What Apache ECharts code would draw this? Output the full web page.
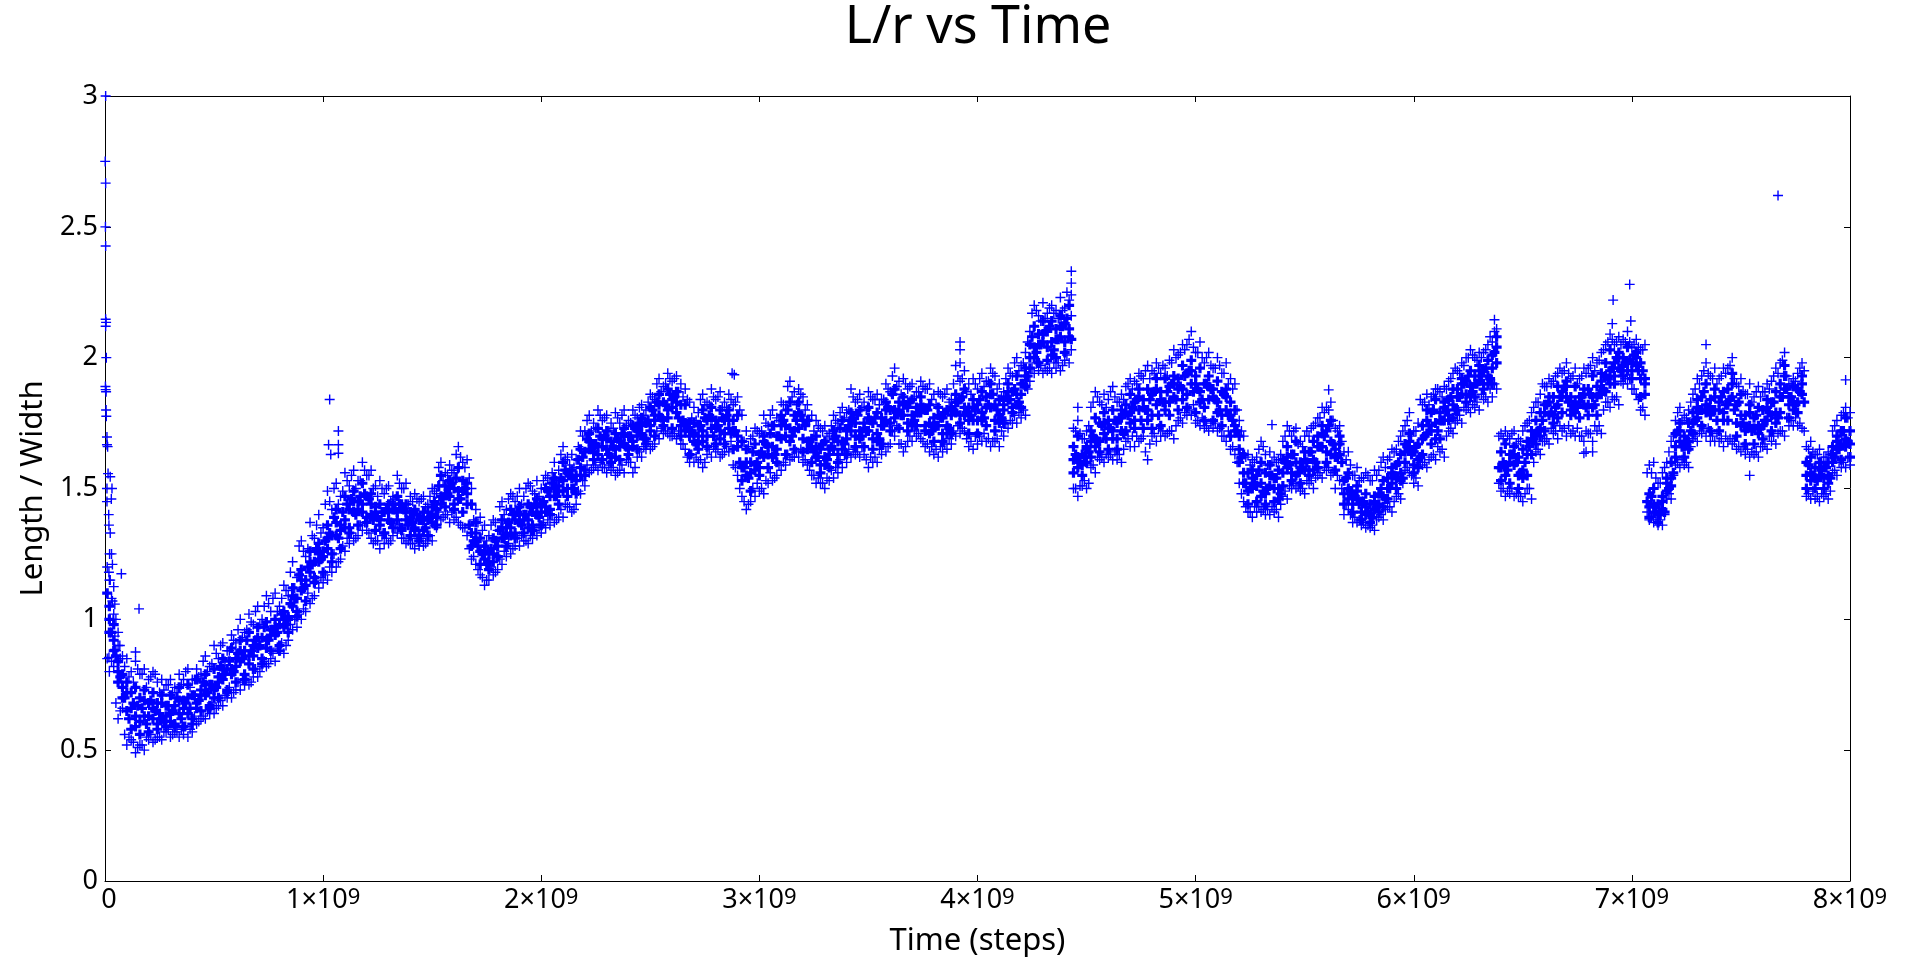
<!DOCTYPE html>
<html><head><meta charset="utf-8">
<style>html,body{margin:0;padding:0;background:#fff}#c{width:1920px;height:962px}</style>
<script src="https://cdn.jsdelivr.net/npm/echarts@6/dist/echarts.min.js"></script>
</head><body><div id="c"></div>
<script>
const chartTitle='L/r vs Time', xName='Time (steps)', yName='Length / Width';
const xTickLabels=['{z|0}','1×10{s|9}','2×10{s|9}','3×10{s|9}','4×10{s|9}','5×10{s|9}','6×10{s|9}','7×10{s|9}','8×10{s|9}'];
const yTickLabels=['0','0.5','1','1.5','2','2.5','3'];
// sample times, in units of 1e9 steps
const timesA=[
0.02,0.06,0.10,0.14,0.18,0.22,0.26,0.30,0.34,0.38,0.42,0.46,0.50,0.54,0.58,0.62,0.66,0.70,0.74,0.78,0.82,0.86,0.90,0.94,0.98,
1.02,1.06,1.10,1.14,1.18,1.22,1.26,1.30,1.34,1.38,1.42,1.46,1.50,1.54,1.58,1.62,1.66,1.70,1.74,1.78,1.82,1.86,1.90,1.94,1.98,
2.02,2.06,2.10,2.14,2.18,2.22,2.26,2.30,2.34,2.38,2.42,2.46,2.50,2.54,2.58,2.62,2.66,2.70,2.74,2.78,2.82,2.86,2.90,2.94,2.98,
3.02,3.06,3.10,3.14,3.18,3.22,3.26,3.30,3.34,3.38,3.42,3.46,3.50,3.54,3.58,3.62,3.66,3.70,3.74,3.78,3.82,3.86,3.90,3.94,3.98,
4.02,4.06,4.10,4.14,4.18,4.22,4.26,4.30,4.34,4.38,4.42,4.46,4.50,4.54,4.58,4.62,4.66,4.70,4.74,4.78,4.82,4.86,4.90,4.94,4.98,
5.02,5.06,5.10,5.14,5.18,5.22,5.26,5.30,5.34,5.38,5.42,5.46,5.50,5.54,5.58,5.62,5.66,5.70,5.74,5.78,5.82,5.86,5.90,5.94,5.98,
6.02,6.06,6.10,6.14,6.18,6.22,6.26,6.30,6.34,6.38,6.42,6.46,6.50,6.54,6.58,6.62,6.66,6.70,6.74,6.78,6.82,6.86,6.90,6.94,6.98,
7.02,7.06,7.10,7.14,7.18,7.22,7.26,7.30,7.34,7.38,7.42,7.46,7.50,7.54,7.58,7.62,7.66,7.70,7.74,7.78,7.82,7.86,7.90,7.94,7.98];
const timesB=[
0.04,0.08,0.12,0.16,0.20,0.24,0.28,0.32,0.36,0.40,0.44,0.48,0.52,0.56,0.60,0.64,0.68,0.72,0.76,0.80,0.84,0.88,0.92,0.96,1.00,
1.04,1.08,1.12,1.16,1.20,1.24,1.28,1.32,1.36,1.40,1.44,1.48,1.52,1.56,1.60,1.64,1.68,1.72,1.76,1.80,1.84,1.88,1.92,1.96,2.00,
2.04,2.08,2.12,2.16,2.20,2.24,2.28,2.32,2.36,2.40,2.44,2.48,2.52,2.56,2.60,2.64,2.68,2.72,2.76,2.80,2.84,2.88,2.92,2.96,3.00,
3.04,3.08,3.12,3.16,3.20,3.24,3.28,3.32,3.36,3.40,3.44,3.48,3.52,3.56,3.60,3.64,3.68,3.72,3.76,3.80,3.84,3.88,3.92,3.96,4.00,
4.04,4.08,4.12,4.16,4.20,4.24,4.28,4.32,4.36,4.40,4.44,4.48,4.52,4.56,4.60,4.64,4.68,4.72,4.76,4.80,4.84,4.88,4.92,4.96,5.00,
5.04,5.08,5.12,5.16,5.20,5.24,5.28,5.32,5.36,5.40,5.44,5.48,5.52,5.56,5.60,5.64,5.68,5.72,5.76,5.80,5.84,5.88,5.92,5.96,6.00,
6.04,6.08,6.12,6.16,6.20,6.24,6.28,6.32,6.36,6.40,6.44,6.48,6.52,6.56,6.60,6.64,6.68,6.72,6.76,6.80,6.84,6.88,6.92,6.96,7.00,
7.04,7.08,7.12,7.16,7.20,7.24,7.28,7.32,7.36,7.40,7.44,7.48,7.52,7.56,7.60,7.64,7.68,7.72,7.76,7.80,7.84,7.88,7.92,7.96,8.00];
const timesC=[
0.01,0.05,0.09,0.13,0.17,0.21,0.25,0.29,0.33,0.37,0.41,0.45,0.49,0.53,0.57,0.61,0.65,0.69,0.73,0.77,0.81,0.85,0.89,0.93,0.97,
1.01,1.05,1.09,1.13,1.17,1.21,1.25,1.29,1.33,1.37,1.41,1.45,1.49,1.53,1.57,1.61,1.65,1.69,1.73,1.77,1.81,1.85,1.89,1.93,1.97,
2.01,2.05,2.09,2.13,2.17,2.21,2.25,2.29,2.33,2.37,2.41,2.45,2.49,2.53,2.57,2.61,2.65,2.69,2.73,2.77,2.81,2.85,2.89,2.93,2.97,
3.01,3.05,3.09,3.13,3.17,3.21,3.25,3.29,3.33,3.37,3.41,3.45,3.49,3.53,3.57,3.61,3.65,3.69,3.73,3.77,3.81,3.85,3.89,3.93,3.97,
4.01,4.05,4.09,4.13,4.17,4.21,4.25,4.29,4.33,4.37,4.41,4.45,4.49,4.53,4.57,4.61,4.65,4.69,4.73,4.77,4.81,4.85,4.89,4.93,4.97,
5.01,5.05,5.09,5.13,5.17,5.21,5.25,5.29,5.33,5.37,5.41,5.45,5.49,5.53,5.57,5.61,5.65,5.69,5.73,5.77,5.81,5.85,5.89,5.93,5.97,
6.01,6.05,6.09,6.13,6.17,6.21,6.25,6.29,6.33,6.37,6.41,6.45,6.49,6.53,6.57,6.61,6.65,6.69,6.73,6.77,6.81,6.85,6.89,6.93,6.97,
7.01,7.05,7.09,7.13,7.17,7.21,7.25,7.29,7.33,7.37,7.41,7.45,7.49,7.53,7.57,7.61,7.65,7.69,7.73,7.77,7.81,7.85,7.89,7.93,7.97];
const timesD=[
0.03,0.07,0.11,0.15,0.19,0.23,0.27,0.31,0.35,0.39,0.43,0.47,0.51,0.55,0.59,0.63,0.67,0.71,0.75,0.79,0.83,0.87,0.91,0.95,0.99,
1.03,1.07,1.11,1.15,1.19,1.23,1.27,1.31,1.35,1.39,1.43,1.47,1.51,1.55,1.59,1.63,1.67,1.71,1.75,1.79,1.83,1.87,1.91,1.95,1.99,
2.03,2.07,2.11,2.15,2.19,2.23,2.27,2.31,2.35,2.39,2.43,2.47,2.51,2.55,2.59,2.63,2.67,2.71,2.75,2.79,2.83,2.87,2.91,2.95,2.99,
3.03,3.07,3.11,3.15,3.19,3.23,3.27,3.31,3.35,3.39,3.43,3.47,3.51,3.55,3.59,3.63,3.67,3.71,3.75,3.79,3.83,3.87,3.91,3.95,3.99,
4.03,4.07,4.11,4.15,4.19,4.23,4.27,4.31,4.35,4.39,4.43,4.47,4.51,4.55,4.59,4.63,4.67,4.71,4.75,4.79,4.83,4.87,4.91,4.95,4.99,
5.03,5.07,5.11,5.15,5.19,5.23,5.27,5.31,5.35,5.39,5.43,5.47,5.51,5.55,5.59,5.63,5.67,5.71,5.75,5.79,5.83,5.87,5.91,5.95,5.99,
6.03,6.07,6.11,6.15,6.19,6.23,6.27,6.31,6.35,6.39,6.43,6.47,6.51,6.55,6.59,6.63,6.67,6.71,6.75,6.79,6.83,6.87,6.91,6.95,6.99,
7.03,7.07,7.11,7.15,7.19,7.23,7.27,7.31,7.35,7.39,7.43,7.47,7.51,7.55,7.59,7.63,7.67,7.71,7.75,7.79,7.83,7.87,7.91,7.95,7.99];
// values: loose points along the top of the band
const hiA=[
1.15,.90,.85,.84,.81,.80,.77,.77,.79,.81,.81,.86,.90,.91,.94,1.0,1.02,1.05,1.09,1.10,1.13,1.22,1.30,1.37,1.40,
1.49,1.52,1.56,1.57,1.60,1.57,1.53,1.51,1.55,1.52,1.48,1.47,1.50,1.60,1.59,1.66,1.61,1.42,1.36,1.38,1.45,1.48,1.50,1.52,1.53,
1.55,1.60,1.66,1.63,1.72,1.78,1.80,1.78,1.79,1.80,1.80,1.82,1.86,1.92,1.94,1.93,1.88,1.81,1.86,1.88,1.87,1.86,1.85,1.72,1.73,
1.78,1.80,1.83,1.91,1.88,1.82,1.76,1.74,1.78,1.81,1.88,1.86,1.87,1.86,1.90,1.96,1.92,1.90,1.91,1.90,1.87,1.88,1.97,1.95,1.92,
1.94,1.96,1.90,1.96,2.00,2.02,2.20,2.21,2.20,2.23,2.22,1.76,1.72,1.87,1.86,1.89,1.86,1.92,1.94,1.97,1.98,1.96,2.03,2.05,2.10,
2.06,2.02,2.00,1.98,1.90,1.70,1.61,1.68,1.64,1.61,1.74,1.73,1.70,1.74,1.81,1.83,1.74,1.64,1.58,1.56,1.57,1.62,1.65,1.70,1.79,
1.75,1.86,1.88,1.89,1.94,1.98,2.03,2.02,2.05,2.11,1.72,1.72,1.72,1.79,1.86,1.92,1.94,1.98,1.96,1.96,2.00,2.02,2.09,2.08,2.10,
2.07,2.05,1.60,1.56,1.68,1.81,1.80,1.92,1.98,1.96,1.96,2.00,1.92,1.90,1.89,1.90,1.96,2.02,1.92,1.98,1.68,1.65,1.64,1.76,1.81];
const hiB=[
1.02,.86,.80,.79,.77,.76,.75,.74,.77,.77,.79,.82,.85,.88,.91,.95,.98,1.0,1.03,1.05,1.09,1.16,1.24,1.31,1.35,
1.42,1.47,1.51,1.53,1.55,1.51,1.48,1.47,1.50,1.47,1.45,1.44,1.48,1.56,1.56,1.60,1.50,1.39,1.32,1.34,1.42,1.45,1.47,1.49,1.50,
1.52,1.57,1.62,1.61,1.72,1.75,1.76,1.75,1.75,1.76,1.77,1.80,1.84,1.89,1.91,1.90,1.83,1.79,1.83,1.84,1.83,1.82,1.78,1.69,1.71,
1.74,1.77,1.80,1.87,1.85,1.78,1.73,1.71,1.75,1.79,1.83,1.83,1.84,1.84,1.87,1.91,1.88,1.87,1.88,1.86,1.85,1.84,1.91,1.90,1.88,
1.91,1.93,1.87,1.93,1.97,2.10,2.16,2.17,2.18,2.19,1.73,1.69,1.81,1.83,1.84,1.83,1.89,1.91,1.92,1.95,1.94,1.99,2.01,2.05,2.02,
1.98,1.96,1.94,1.92,1.76,1.63,1.62,1.63,1.62,1.68,1.70,1.68,1.70,1.77,1.81,1.73,1.64,1.55,1.54,1.53,1.57,1.61,1.65,1.74,1.72,
1.82,1.85,1.87,1.91,1.95,2.00,2.00,2.02,2.06,1.71,1.69,1.69,1.75,1.83,1.89,1.91,1.94,1.92,1.92,1.96,1.98,2.05,2.05,2.07,2.04,
2.03,1.59,1.52,1.60,1.76,1.78,1.86,1.93,1.93,1.92,1.96,1.90,1.86,1.85,1.87,1.91,1.98,1.90,1.94,1.66,1.63,1.62,1.72,1.78,1.79];
const upC=[
1.20,.88,.82,.76,.79,.78,.72,.75,.72,.80,.77,.84,.83,.90,.88,.96,.96,1.03,1.05,1.08,1.08,1.18,1.28,1.27,1.36,
1.44,1.50,1.49,1.55,1.53,1.55,1.47,1.50,1.46,1.50,1.45,1.46,1.47,1.58,1.55,1.63,1.58,1.38,1.34,1.36,1.43,1.46,1.47,1.50,1.48,
1.53,1.56,1.63,1.59,1.66,1.76,1.73,1.77,1.73,1.78,1.75,1.81,1.83,1.90,1.90,1.92,1.85,1.77,1.84,1.82,1.85,1.81,1.83,1.68,1.70,
1.72,1.78,1.76,1.89,1.82,1.80,1.72,1.72,1.74,1.79,1.80,1.84,1.80,1.84,1.84,1.93,1.86,1.89,1.87,1.88,1.82,1.86,1.90,1.92,1.86,
1.92,1.91,1.88,1.92,1.98,1.98,2.17,2.14,2.19,2.15,2.25,1.72,1.69,1.83,1.82,1.87,1.83,1.90,1.90,1.95,1.94,1.97,1.98,2.02,2.07,
2.02,2.0,1.96,1.94,1.88,1.72,1.59,1.65,1.59,1.60,1.70,1.72,1.66,1.73,1.77,1.80,1.72,1.61,1.55,1.54,1.53,1.60,1.62,1.68,1.76,
1.72,1.83,1.86,1.85,1.92,1.94,2.0,1.99,2.03,2.10,1.69,1.71,1.68,1.76,1.83,1.89,1.93,1.95,1.93,1.93,1.97,1.99,2.06,2.06,2.06,
2.05,2.03,1.56,1.52,1.64,1.79,1.77,1.88,1.95,1.92,1.93,1.97,1.89,1.86,1.87,1.87,1.93,1.99,1.90,1.96,1.65,1.63,1.62,1.74,1.79];
const upD=[
1.08,.85,.78,.81,.74,.79,.73,.72,.75,.74,.78,.80,.87,.84,.92,.93,.99,.98,1.06,1.03,1.11,1.12,1.26,1.32,1.33,
1.45,1.44,1.53,1.50,1.57,1.50,1.50,1.45,1.52,1.44,1.46,1.43,1.49,1.53,1.57,1.62,1.54,1.37,1.30,1.37,1.40,1.47,1.44,1.51,1.47,
1.54,1.53,1.61,1.58,1.70,1.72,1.78,1.72,1.77,1.74,1.78,1.78,1.85,1.87,1.92,1.87,1.84,1.76,1.82,1.85,1.81,1.84,1.80,1.66,1.72,
1.75,1.74,1.82,1.85,1.86,1.76,1.74,1.70,1.76,1.77,1.85,1.81,1.85,1.82,1.88,1.89,1.90,1.85,1.89,1.84,1.86,1.83,1.93,1.87,1.90,
1.89,1.94,1.85,1.94,1.95,2.06,2.18,2.15,2.17,2.18,2.16,1.71,1.74,1.85,1.81,1.85,1.84,1.88,1.93,1.92,1.96,1.93,2.0,2.03,2.04,
2.0,1.97,1.97,1.90,1.80,1.62,1.60,1.66,1.60,1.63,1.72,1.67,1.72,1.75,1.79,1.76,1.68,1.59,1.53,1.55,1.55,1.58,1.64,1.72,1.70,
1.84,1.82,1.88,1.88,1.96,1.97,2.01,2.0,2.08,1.70,1.70,1.67,1.74,1.81,1.90,1.90,1.96,1.94,1.90,1.94,1.95,2.03,2.07,2.05,2.06,
2.04,1.56,1.54,1.58,1.70,1.76,1.83,1.90,1.94,1.90,1.94,1.92,1.87,1.83,1.85,1.88,1.94,1.93,1.91,1.95,1.64,1.60,1.63,1.70,1.77];
// the solid core of the band
const coreA1=[
1.05,.84,.76,.74,.73,.72,.71,.71,.74,.75,.77,.79,.81,.85,.89,.92,.95,.97,.99,1.0,1.03,1.12,1.19,1.26,1.29,
1.36,1.42,1.47,1.49,1.52,1.48,1.44,1.44,1.47,1.44,1.42,1.41,1.43,1.55,1.53,1.58,1.52,1.37,1.28,1.31,1.38,1.42,1.43,1.44,1.46,
1.50,1.54,1.60,1.57,1.65,1.71,1.73,1.72,1.71,1.73,1.74,1.77,1.81,1.86,1.88,1.87,1.82,1.75,1.80,1.81,1.80,1.80,1.78,1.65,1.67,
1.70,1.74,1.78,1.83,1.83,1.76,1.70,1.68,1.72,1.76,1.79,1.80,1.81,1.79,1.83,1.88,1.85,1.84,1.85,1.82,1.81,1.80,1.86,1.88,1.84,
1.87,1.90,1.84,1.90,1.93,1.96,2.12,2.14,2.14,2.16,2.20,1.70,1.66,1.77,1.79,1.80,1.80,1.86,1.88,1.88,1.92,1.92,1.93,1.97,1.99,
1.96,1.93,1.91,1.88,1.80,1.63,1.57,1.60,1.59,1.57,1.66,1.68,1.64,1.68,1.74,1.76,1.70,1.56,1.51,1.48,1.47,1.53,1.58,1.63,1.71,
1.67,1.80,1.84,1.83,1.88,1.92,1.95,1.97,1.99,2.08,1.67,1.66,1.65,1.72,1.79,1.85,1.89,1.91,1.89,1.88,1.93,1.94,2.03,2.02,2.04,
2.02,1.92,1.50,1.47,1.60,1.75,1.75,1.84,1.90,1.88,1.87,1.94,1.86,1.82,1.81,1.84,1.87,1.97,1.89,1.93,1.62,1.60,1.60,1.70,1.77];
const coreB1=[
.98,.79,.72,.70,.68,.68,.67,.67,.69,.71,.73,.75,.78,.81,.85,.88,.90,.93,.96,.98,1.01,1.08,1.15,1.22,1.26,
1.32,1.36,1.42,1.45,1.47,1.43,1.41,1.42,1.44,1.41,1.38,1.38,1.42,1.51,1.50,1.53,1.44,1.31,1.25,1.28,1.35,1.38,1.40,1.41,1.44,
1.47,1.51,1.56,1.55,1.64,1.67,1.69,1.68,1.68,1.70,1.72,1.75,1.78,1.83,1.84,1.82,1.75,1.74,1.76,1.76,1.76,1.76,1.68,1.60,1.63,
1.66,1.70,1.74,1.78,1.76,1.69,1.65,1.65,1.68,1.72,1.75,1.75,1.75,1.77,1.80,1.83,1.81,1.81,1.80,1.77,1.77,1.81,1.84,1.81,1.82,
1.85,1.82,1.82,1.87,1.90,2.05,2.09,2.10,2.11,2.13,1.66,1.63,1.72,1.75,1.76,1.75,1.82,1.83,1.84,1.86,1.87,1.89,1.92,1.94,1.93,
1.90,1.88,1.87,1.83,1.70,1.56,1.55,1.56,1.54,1.61,1.63,1.60,1.64,1.70,1.72,1.65,1.53,1.47,1.45,1.44,1.48,1.54,1.59,1.67,1.64,
1.74,1.79,1.79,1.84,1.88,1.91,1.93,1.95,2.01,1.64,1.63,1.62,1.68,1.76,1.82,1.85,1.87,1.85,1.85,1.88,1.89,1.98,1.98,2.0,1.98,
1.98,1.48,1.44,1.54,1.71,1.70,1.79,1.85,1.84,1.83,1.88,1.82,1.78,1.77,1.80,1.83,1.90,1.85,1.88,1.60,1.58,1.58,1.66,1.72,1.72];
const midC=[
1.10,.86,.70,.68,.66,.69,.64,.67,.70,.68,.71,.76,.75,.82,.84,.87,.92,.92,.97,.96,1.02,1.06,1.17,1.20,1.27,
1.30,1.39,1.41,1.46,1.47,1.46,1.39,1.42,1.42,1.42,1.37,1.38,1.39,1.51,1.48,1.54,1.50,1.30,1.25,1.27,1.34,1.37,1.41,1.40,1.44,
1.45,1.52,1.54,1.55,1.61,1.69,1.67,1.70,1.66,1.71,1.70,1.75,1.76,1.83,1.82,1.85,1.76,1.72,1.74,1.78,1.74,1.78,1.72,1.58,1.64,
1.64,1.71,1.70,1.80,1.76,1.74,1.64,1.67,1.66,1.73,1.74,1.78,1.72,1.77,1.74,1.86,1.78,1.83,1.79,1.80,1.74,1.79,1.80,1.85,1.78,
1.84,1.82,1.80,1.85,1.88,1.90,2.08,2.05,2.12,2.07,2.15,1.63,1.62,1.70,1.74,1.73,1.77,1.78,1.84,1.80,1.87,1.83,1.90,1.89,1.95,
1.88,1.90,1.84,1.86,1.76,1.62,1.50,1.57,1.50,1.54,1.60,1.63,1.58,1.64,1.66,1.74,1.62,1.54,1.47,1.45,1.39,1.50,1.50,1.60,1.66,
1.66,1.70,1.80,1.76,1.85,1.85,1.93,1.90,1.96,2.02,1.60,1.63,1.56,1.66,1.72,1.82,1.81,1.89,1.82,1.85,1.86,1.86,1.92,2.0,1.98,
2.01,1.95,1.47,1.40,1.50,1.72,1.68,1.76,1.87,1.80,1.85,1.84,1.83,1.73,1.78,1.76,1.83,1.85,1.85,1.87,1.59,1.53,1.58,1.62,1.72];
const midD=[
.95,.78,.62,.67,.60,.65,.61,.65,.62,.66,.69,.72,.74,.79,.80,.85,.88,.90,.92,.95,.98,1.08,1.12,1.21,1.23,
1.33,1.31,1.44,1.40,1.48,1.38,1.41,1.37,1.44,1.36,1.40,1.35,1.45,1.46,1.52,1.46,1.36,1.28,1.21,1.30,1.31,1.40,1.36,1.43,1.39,
1.49,1.47,1.57,1.50,1.62,1.65,1.70,1.63,1.69,1.66,1.73,1.69,1.80,1.77,1.86,1.77,1.73,1.67,1.77,1.70,1.77,1.71,1.60,1.54,1.60,
1.67,1.63,1.76,1.70,1.78,1.68,1.62,1.61,1.70,1.67,1.77,1.70,1.76,1.69,1.81,1.79,1.82,1.76,1.81,1.72,1.77,1.73,1.83,1.79,1.80,
1.77,1.86,1.77,1.84,1.83,1.93,2.02,2.10,2.03,2.12,2.07,1.60,1.64,1.68,1.69,1.76,1.71,1.81,1.76,1.84,1.78,1.87,1.84,1.93,1.87,
1.84,1.88,1.80,1.78,1.72,1.52,1.52,1.49,1.55,1.48,1.59,1.56,1.60,1.60,1.70,1.67,1.60,1.49,1.44,1.41,1.43,1.46,1.55,1.54,1.63,
1.62,1.74,1.72,1.80,1.80,1.90,1.87,1.93,1.92,1.58,1.57,1.60,1.60,1.69,1.76,1.79,1.85,1.83,1.81,1.81,1.82,1.88,1.96,1.95,1.99,
1.95,1.45,1.43,1.41,1.56,1.66,1.72,1.80,1.81,1.76,1.82,1.80,1.75,1.72,1.73,1.79,1.77,1.88,1.82,1.83,1.55,1.57,1.54,1.65,1.68];
const midE=[
1.00,.80,.72,.59,.69,.66,.68,.61,.69,.70,.66,.75,.70,.81,.79,.88,.83,.93,.89,.97,1.0,1.09,1.15,1.22,1.25,
1.31,1.37,1.35,1.45,1.41,1.44,1.36,1.41,1.38,1.41,1.34,1.38,1.40,1.44,1.50,1.46,1.48,1.33,1.26,1.22,1.35,1.32,1.40,1.35,1.43,
1.41,1.50,1.49,1.54,1.55,1.68,1.63,1.69,1.62,1.70,1.66,1.74,1.72,1.82,1.77,1.83,1.72,1.71,1.68,1.77,1.69,1.76,1.66,1.60,1.57,
1.68,1.62,1.74,1.68,1.79,1.65,1.66,1.59,1.69,1.65,1.76,1.69,1.77,1.68,1.80,1.77,1.82,1.74,1.82,1.71,1.78,1.71,1.83,1.78,1.81,
1.76,1.86,1.75,1.87,1.82,1.93,2.00,2.09,2.01,2.12,2.08,1.58,1.65,1.66,1.75,1.69,1.77,1.75,1.85,1.76,1.88,1.80,1.90,1.84,1.95,
1.83,1.89,1.79,1.85,1.72,1.52,1.54,1.47,1.55,1.46,1.62,1.55,1.61,1.57,1.71,1.63,1.67,1.46,1.49,1.40,1.45,1.43,1.56,1.53,1.68,
1.58,1.76,1.69,1.81,1.77,1.90,1.85,1.95,1.90,2.04,1.55,1.63,1.54,1.69,1.70,1.83,1.77,1.89,1.79,1.86,1.81,1.91,1.90,2.0,1.95,
2.0,1.90,1.41,1.45,1.51,1.72,1.65,1.81,1.79,1.85,1.76,1.90,1.74,1.79,1.71,1.81,1.75,1.93,1.80,1.90,1.53,1.58,1.52,1.68,1.66];
const midF=[
.92,.74,.66,.61,.63,.60,.63,.59,.66,.62,.71,.66,.76,.72,.82,.77,.86,.83,.94,.88,1.0,1.03,1.13,1.16,1.24,
1.25,1.34,1.35,1.42,1.39,1.41,1.33,1.44,1.34,1.39,1.32,1.41,1.36,1.48,1.44,1.49,1.33,1.26,1.22,1.24,1.33,1.33,1.38,1.36,1.41,
1.42,1.49,1.50,1.53,1.57,1.64,1.66,1.62,1.66,1.65,1.70,1.69,1.76,1.76,1.81,1.74,1.70,1.70,1.70,1.73,1.71,1.72,1.58,1.56,1.58,
1.63,1.65,1.70,1.72,1.69,1.66,1.59,1.63,1.63,1.69,1.70,1.73,1.69,1.74,1.75,1.80,1.75,1.79,1.74,1.74,1.71,1.78,1.78,1.76,1.76,
1.81,1.76,1.80,1.81,1.86,2.0,2.05,2.04,2.07,2.06,1.61,1.59,1.68,1.68,1.73,1.69,1.79,1.76,1.81,1.78,1.84,1.83,1.88,1.86,1.90,
1.81,1.85,1.78,1.78,1.65,1.49,1.51,1.48,1.50,1.56,1.56,1.58,1.57,1.66,1.64,1.62,1.48,1.44,1.41,1.40,1.44,1.50,1.54,1.64,1.59,
1.69,1.72,1.76,1.78,1.85,1.86,1.90,1.90,1.96,1.58,1.60,1.55,1.63,1.71,1.79,1.78,1.85,1.80,1.83,1.82,1.85,1.93,1.93,1.97,1.95,
1.92,1.43,1.40,1.52,1.66,1.66,1.75,1.80,1.78,1.80,1.82,1.75,1.72,1.73,1.74,1.78,1.85,1.82,1.83,1.55,1.54,1.54,1.63,1.67,1.67];
const coreA2=[
.95,.76,.65,.63,.63,.62,.62,.64,.64,.64,.68,.71,.73,.77,.81,.84,.86,.89,.92,.94,.97,1.05,1.11,1.18,1.22,
1.27,1.32,1.38,1.41,1.44,1.40,1.38,1.38,1.41,1.38,1.35,1.34,1.37,1.47,1.47,1.49,1.44,1.30,1.23,1.25,1.31,1.35,1.37,1.38,1.40,
1.43,1.47,1.53,1.50,1.58,1.65,1.66,1.65,1.65,1.67,1.68,1.71,1.74,1.78,1.80,1.79,1.75,1.68,1.72,1.73,1.72,1.73,1.70,1.55,1.59,
1.62,1.66,1.69,1.73,1.73,1.68,1.62,1.62,1.65,1.68,1.72,1.72,1.72,1.71,1.76,1.80,1.78,1.78,1.79,1.75,1.74,1.74,1.79,1.81,1.76,
1.79,1.81,1.78,1.84,1.86,1.89,2.04,2.06,2.06,2.08,2.11,1.62,1.60,1.69,1.71,1.72,1.72,1.79,1.80,1.80,1.82,1.83,1.85,1.88,1.90,
1.87,1.84,1.83,1.80,1.74,1.56,1.50,1.52,1.51,1.50,1.58,1.60,1.57,1.61,1.66,1.68,1.63,1.50,1.46,1.43,1.42,1.47,1.52,1.56,1.65,
1.61,1.71,1.75,1.76,1.82,1.86,1.89,1.91,1.93,1.98,1.59,1.59,1.57,1.63,1.73,1.78,1.82,1.85,1.83,1.82,1.85,1.86,1.95,1.96,1.98,
1.97,1.86,1.44,1.42,1.54,1.68,1.68,1.77,1.82,1.80,1.79,1.85,1.78,1.74,1.74,1.76,1.79,1.88,1.83,1.86,1.56,1.55,1.55,1.65,1.69];
const coreB2=[
.88,.70,.58,.56,.57,.58,.59,.60,.59,.60,.65,.67,.70,.73,.76,.79,.81,.85,.88,.90,.95,1.01,1.07,1.14,1.18,
1.22,1.27,1.33,1.36,1.37,1.34,1.33,1.35,1.35,1.32,1.30,1.32,1.39,1.43,1.42,1.41,1.28,1.21,1.19,1.24,1.28,1.31,1.33,1.34,1.36,
1.40,1.44,1.47,1.48,1.55,1.61,1.61,1.60,1.61,1.63,1.65,1.67,1.70,1.74,1.73,1.70,1.63,1.65,1.66,1.67,1.67,1.65,1.53,1.49,1.55,
1.58,1.60,1.63,1.65,1.64,1.60,1.56,1.58,1.60,1.63,1.66,1.66,1.65,1.67,1.72,1.73,1.72,1.74,1.72,1.68,1.68,1.71,1.75,1.71,1.71,
1.74,1.72,1.75,1.79,1.81,1.96,1.98,1.99,2.00,2.02,1.56,1.55,1.62,1.64,1.65,1.65,1.72,1.73,1.73,1.73,1.74,1.78,1.80,1.81,1.79,
1.76,1.76,1.74,1.70,1.60,1.44,1.45,1.44,1.45,1.51,1.53,1.52,1.55,1.58,1.60,1.57,1.44,1.41,1.38,1.37,1.41,1.46,1.50,1.60,1.56,
1.63,1.67,1.69,1.76,1.80,1.83,1.85,1.88,1.90,1.53,1.52,1.50,1.55,1.67,1.72,1.75,1.79,1.78,1.77,1.78,1.78,1.87,1.90,1.93,1.92,
1.85,1.39,1.37,1.49,1.62,1.62,1.71,1.74,1.72,1.72,1.76,1.70,1.67,1.67,1.69,1.72,1.79,1.77,1.79,1.50,1.50,1.50,1.60,1.61,1.62];
// loose points along the bottom of the band
const loB=[
.82,.66,.54,.52,.54,.55,.57,.57,.56,.57,.62,.64,.67,.70,.73,.75,.78,.82,.85,.88,.92,.97,1.03,1.09,1.14,
1.18,1.23,1.29,1.32,1.34,1.30,1.29,1.32,1.31,1.29,1.28,1.30,1.35,1.40,1.38,1.35,1.23,1.17,1.15,1.19,1.24,1.28,1.30,1.31,1.33,
1.36,1.39,1.43,1.44,1.51,1.58,1.58,1.57,1.57,1.60,1.62,1.65,1.67,1.71,1.70,1.67,1.60,1.60,1.63,1.64,1.64,1.59,1.47,1.45,1.49,
1.52,1.55,1.59,1.62,1.60,1.55,1.52,1.53,1.56,1.60,1.63,1.63,1.60,1.63,1.67,1.67,1.68,1.70,1.66,1.63,1.64,1.67,1.71,1.66,1.67,
1.68,1.68,1.70,1.75,1.77,1.91,1.95,1.95,1.96,1.99,1.50,1.51,1.58,1.61,1.62,1.61,1.68,1.66,1.70,1.70,1.70,1.72,1.76,1.78,1.75,
1.73,1.73,1.70,1.65,1.52,1.41,1.41,1.40,1.41,1.47,1.50,1.49,1.52,1.55,1.57,1.50,1.40,1.37,1.36,1.35,1.39,1.43,1.47,1.57,1.52,
1.59,1.62,1.64,1.72,1.76,1.80,1.81,1.84,1.85,1.49,1.48,1.47,1.50,1.64,1.68,1.71,1.72,1.71,1.70,1.71,1.72,1.83,1.84,1.90,1.88,
1.80,1.38,1.36,1.46,1.59,1.59,1.69,1.71,1.68,1.68,1.68,1.65,1.63,1.63,1.66,1.68,1.72,1.74,1.74,1.47,1.46,1.47,1.56,1.58,1.59];
const loA=[
.80,.62,.52,.49,.50,.53,.54,.55,.55,.55,.60,.62,.64,.67,.70,.73,.75,.78,.82,.84,.87,.96,1.0,1.06,1.12,
1.15,1.20,1.26,1.30,1.34,1.31,1.27,1.29,1.33,1.29,1.27,1.28,1.30,1.38,1.37,1.37,1.32,1.21,1.13,1.17,1.21,1.25,1.28,1.29,1.32,
1.35,1.37,1.39,1.41,1.48,1.56,1.57,1.56,1.55,1.56,1.56,1.62,1.65,1.69,1.71,1.69,1.65,1.60,1.58,1.62,1.62,1.64,1.55,1.42,1.47,
1.48,1.53,1.57,1.61,1.62,1.59,1.52,1.50,1.54,1.58,1.62,1.62,1.58,1.60,1.64,1.70,1.64,1.68,1.69,1.64,1.62,1.65,1.70,1.72,1.65,
1.68,1.66,1.66,1.73,1.75,1.78,1.94,1.94,1.94,1.95,1.98,1.47,1.50,1.56,1.60,1.61,1.60,1.66,1.68,1.61,1.68,1.70,1.69,1.75,1.78,
1.74,1.72,1.72,1.68,1.63,1.45,1.39,1.41,1.40,1.39,1.46,1.50,1.48,1.50,1.54,1.55,1.53,1.42,1.37,1.35,1.34,1.38,1.41,1.46,1.56,
1.51,1.58,1.61,1.62,1.71,1.75,1.79,1.80,1.83,1.88,1.47,1.47,1.45,1.46,1.63,1.67,1.69,1.70,1.70,1.68,1.68,1.71,1.81,1.82,1.90,
1.86,1.78,1.37,1.36,1.46,1.58,1.58,1.68,1.70,1.68,1.66,1.67,1.64,1.62,1.62,1.65,1.67,1.70,1.74,1.73,1.46,1.45,1.46,1.55,1.58];
const lowC=[
.85,.68,.56,.53,.52,.56,.55,.58,.57,.59,.63,.63,.68,.69,.74,.76,.77,.81,.84,.87,.91,.98,1.02,1.10,1.15,
1.17,1.25,1.28,1.33,1.36,1.33,1.30,1.31,1.35,1.31,1.29,1.31,1.32,1.41,1.40,1.39,1.35,1.24,1.16,1.20,1.23,1.29,1.31,1.30,1.34,
1.37,1.40,1.42,1.43,1.49,1.59,1.59,1.58,1.58,1.59,1.60,1.64,1.68,1.72,1.72,1.71,1.67,1.63,1.61,1.65,1.65,1.66,1.58,1.45,1.50,
1.50,1.56,1.59,1.63,1.64,1.61,1.55,1.52,1.57,1.61,1.65,1.64,1.61,1.62,1.67,1.72,1.67,1.70,1.71,1.67,1.65,1.67,1.72,1.73,1.68,
1.70,1.69,1.69,1.75,1.78,1.80,1.96,1.97,1.96,1.98,2.01,1.50,1.53,1.59,1.62,1.63,1.63,1.69,1.70,1.64,1.71,1.72,1.72,1.77,1.80,
1.76,1.74,1.75,1.70,1.66,1.48,1.41,1.43,1.42,1.42,1.49,1.52,1.50,1.53,1.56,1.58,1.55,1.44,1.39,1.37,1.36,1.40,1.43,1.48,1.58,
1.54,1.60,1.63,1.65,1.73,1.78,1.81,1.83,1.85,1.90,1.50,1.50,1.47,1.50,1.65,1.69,1.72,1.73,1.72,1.70,1.71,1.74,1.83,1.85,1.92,
1.88,1.81,1.39,1.38,1.48,1.60,1.60,1.70,1.73,1.70,1.69,1.69,1.66,1.65,1.64,1.67,1.70,1.72,1.76,1.75,1.48,1.47,1.48,1.57,1.60];
const lowD=[
.84,.65,.55,.51,.55,.54,.57,.56,.58,.58,.61,.65,.66,.71,.72,.77,.76,.80,.83,.89,.90,1.0,1.04,1.08,1.16,
1.20,1.22,1.31,1.31,1.37,1.29,1.32,1.30,1.36,1.30,1.31,1.29,1.36,1.39,1.41,1.36,1.27,1.19,1.15,1.18,1.26,1.27,1.32,1.32,1.35,
1.38,1.38,1.44,1.42,1.53,1.57,1.60,1.59,1.56,1.61,1.58,1.66,1.66,1.73,1.70,1.72,1.62,1.62,1.60,1.66,1.63,1.68,1.50,1.44,1.52,
1.53,1.54,1.60,1.62,1.65,1.57,1.54,1.54,1.58,1.63,1.64,1.66,1.62,1.65,1.66,1.74,1.66,1.72,1.68,1.66,1.66,1.69,1.74,1.69,1.70,
1.71,1.68,1.72,1.76,1.79,1.88,1.98,1.96,1.98,1.97,2.03,1.51,1.52,1.62,1.63,1.64,1.65,1.70,1.69,1.67,1.73,1.71,1.74,1.79,1.82,
1.77,1.75,1.73,1.72,1.60,1.43,1.43,1.42,1.43,1.44,1.51,1.51,1.53,1.54,1.58,1.56,1.50,1.40,1.38,1.36,1.38,1.42,1.45,1.52,1.55,
1.60,1.61,1.66,1.70,1.75,1.81,1.82,1.86,1.88,1.52,1.49,1.48,1.48,1.60,1.68,1.73,1.74,1.74,1.73,1.72,1.74,1.80,1.85,1.91,1.92,
1.84,1.41,1.38,1.40,1.55,1.61,1.66,1.72,1.73,1.71,1.70,1.68,1.66,1.64,1.66,1.70,1.71,1.77,1.77,1.72,1.49,1.48,1.49,1.60,1.62];
// isolated points read one by one
const looseTimes=[.003,.001,.003,.002,.003,.003,.005,.003,.006,.002,.003,.005,.005,.006,.009,.009,.012,.014,.024,.009,.032,.029,.009,.017,.018,.024,.021,.03,.034,.018,.075,.024,.04,.034,.045,.037,.05,.045,.06,.045,.068,.018,.06,
.156,.14,1.03,1.07,1.025,1.07,1.035,1.07,2.875,2.885,3.92,3.92,3.92,4.43,4.43,4.43,4.46,5.35,5.61,6.37,6.914,6.91,6.99,6.995,7.34,7.54,7.67,7.98,6.78,6.79,6.82];
const looseValues=[3.0,2.75,2.667,2.5,2.427,2.147,2.135,2.12,2.0,1.89,1.878,1.87,1.80,1.776,1.697,1.667,1.66,1.557,1.545,1.50,1.50,1.46,1.45,1.40,1.36,1.33,1.25,1.25,1.21,1.18,1.174,1.15,1.125,1.07,1.058,1.0,1.0,.936,.95,.885,.90,.854,.835,
1.04,.875,1.84,1.72,1.667,1.667,1.63,1.635,1.94,1.935,2.06,2.03,1.98,2.33,2.285,2.24,1.81,1.744,1.877,2.145,2.22,2.13,2.28,2.14,2.05,1.55,2.62,1.915,1.635,1.64,1.64];

const BLUE='#0000ff';
const thin='path://M4.3 0h1.4v4.3h4.3v1.4H5.7v4.3H4.3V5.7H0V4.3h4.3z';
const heavy='path://M3.4 0h3.2v3.4h3.4v3.2H6.6v3.4H3.4V6.6H0V3.4h3.4z';
const pts=(ts,vs)=>vs.map((v,i)=>[ts[i]*1e9,v]);
const sc=(ts,vs,sym)=>({type:'scatter',data:pts(ts,vs),symbol:sym,symbolSize:10,itemStyle:{color:BLUE,opacity:1},clip:false,silent:true,animation:false,progressive:0});
const FONT='"Noto Sans"';
const axisLine={show:true,onZero:false,lineStyle:{color:'#000',width:1}};
const axisTick={show:true,inside:true,length:6,lineStyle:{color:'#000',width:1}};
const chart=echarts.init(document.getElementById('c'));
chart.setOption({
 backgroundColor:'#fff',animation:false,
 title:{text:chartTitle,top:-3,left:973,textAlign:'center',textStyle:{fontFamily:FONT,fontSize:52,fontWeight:'normal',color:'#000'}},
 grid:{left:105,right:70,top:96,bottom:80,containLabel:false},
 xAxis:[
  {type:'value',min:0,max:8e9,interval:1e9,name:xName,nameLocation:'middle',nameGap:45,
   nameTextStyle:{fontFamily:FONT,fontSize:31,color:'#000'},
   axisLine,axisTick,splitLine:{show:false},
   axisLabel:{margin:6,color:'#000',fontFamily:FONT,fontSize:27,hideOverlap:false,showMinLabel:true,showMaxLabel:true,
     formatter:(v)=>xTickLabels[Math.round(v/1e9)],
     rich:{s:{fontFamily:FONT,fontSize:22,verticalAlign:'top',lineHeight:20,padding:[0,0,12,0],color:'#000'},
           z:{fontFamily:FONT,fontSize:27,padding:[0,0,0,8],color:'#000'}}}},
  {type:'value',position:'top',min:0,max:8e9,interval:1e9,axisLine,axisLabel:{show:false},axisTick,splitLine:{show:false}}
 ],
 yAxis:[
  {type:'value',min:0,max:3,interval:.5,name:yName,nameLocation:'middle',nameGap:52,
   nameTextStyle:{fontFamily:FONT,fontSize:31,color:'#000'},
   axisLine,axisTick,splitLine:{show:false},
   axisLabel:{margin:7,color:'#000',fontFamily:FONT,fontSize:27,showMinLabel:true,showMaxLabel:true,padding:[3,0,0,0],
     formatter:(v)=>yTickLabels[Math.round(v*2)]}},
  {type:'value',position:'right',min:0,max:3,interval:.5,axisLine,axisLabel:{show:false},axisTick,splitLine:{show:false}}
 ],
 series:[
  sc(timesA,hiA,thin),sc(timesB,hiB,thin),sc(timesC,upC,thin),sc(timesD,upD,thin),
  sc(timesB,loB,thin),sc(timesA,loA,thin),sc(timesC,lowC,thin),sc(timesD,lowD,thin),
  sc(timesA,coreA1,heavy),sc(timesB,coreB1,heavy),
  sc(timesC,midC,heavy),sc(timesD,midD,heavy),
  sc(timesA,midE,heavy),sc(timesB,midF,heavy),
  sc(timesA,coreA2,heavy),sc(timesB,coreB2,heavy),
  sc(looseTimes,looseValues,thin)
 ]
});
</script></body></html>
